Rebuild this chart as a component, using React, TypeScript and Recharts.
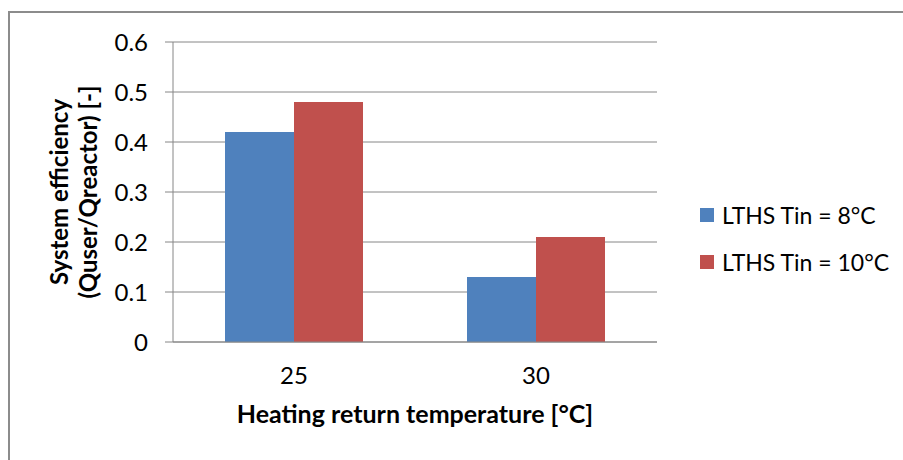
import React from 'react';
import { BarChart, Bar, XAxis, YAxis, CartesianGrid } from 'recharts';

const categories = ['25', '30'];
const seriesNames = ['LTHS Tin = 8°C', 'LTHS Tin = 10°C'];
const tin8 = [0.42, 0.13];
const tin10 = [0.48, 0.21];
const yTicks = [0, 0.1, 0.2, 0.3, 0.4, 0.5, 0.6];
const edgeTicks = [0, 1, 2];
const xTitle = 'Heating return temperature [°C]';
const yTitle = ['System efficiency', '(Quser/Qreactor) [-]'];

const colors = ['#4F81BD', '#C0504D'];
const gray = '#868686';
const font = 'Lato, Carlito, Calibri, sans-serif';

const data = categories.map((c, i) => ({ cat: c, s0: tin8[i], s1: tin10[i] }));

const YTitle = (props: any) => {
  const cy = props.viewBox ? props.viewBox.y + props.viewBox.height / 2 : 192;
  return (
    <g transform={`translate(0, ${cy}) rotate(-90)`}>
      <text x={0} y={68} textAnchor="middle" fontFamily={font} fontWeight="bold" fontSize={24} fill="#000">
        {yTitle[0]}
      </text>
      <text x={0} y={97} textAnchor="middle" fontFamily={font} fontWeight="bold" fontSize={24} fill="#000">
        {yTitle[1]}
      </text>
    </g>
  );
};

const App: React.FC = () => {
  return (
    <div style={{ position: 'absolute', left: 0, top: 0, width: 903, height: 460, overflow: 'hidden', background: '#fff' }}>
      <div
        style={{
          position: 'absolute', left: 8, top: 11, width: 900, height: 460,
          borderTop: '2px solid #8c8c8c', borderLeft: '2px solid #8c8c8c', boxSizing: 'border-box',
        }}
      />
      <div style={{ position: 'absolute', left: 0, top: 0 }}>
        <BarChart
          width={903}
          height={460}
          data={data}
          margin={{ top: 42, right: 246, bottom: 0, left: 0 }}
          barGap={0}
          barCategoryGap={52}
        >
          <CartesianGrid vertical={false} stroke={gray} strokeWidth={1} />
          <XAxis
            xAxisId="edges"
            type="number"
            domain={[0, 2]}
            ticks={edgeTicks}
            tick={false}
            axisLine={false}
            tickLine={{ stroke: gray }}
            tickSize={8}
            height={0}
          />
          <XAxis
            dataKey="cat"
            tickLine={false}
            tickSize={0}
            tickMargin={25}
            axisLine={{ stroke: gray }}
            height={118}
            tick={{ fontFamily: font, fontSize: 24, fill: '#000' }}
            label={{ value: xTitle, position: 'insideTop', offset: 63, fontFamily: font, fontWeight: 'bold', fontSize: 25, fill: '#000' }}
          />
          <YAxis
            width={173}
            domain={[0, 0.6]}
            ticks={yTicks}
            interval={0}
            tickSize={8}
            tickMargin={17}
            axisLine={{ stroke: gray }}
            tickLine={{ stroke: gray }}
            tick={{ fontFamily: font, fontSize: 24, fill: '#000' }}
            label={<YTitle />}
          />
          <Bar dataKey="s0" name={seriesNames[0]} fill={colors[0]} isAnimationActive={false} />
          <Bar dataKey="s1" name={seriesNames[1]} fill={colors[1]} isAnimationActive={false} />
        </BarChart>
      </div>
      {seriesNames.map((n, i) => (
        <div
          key={n}
          style={{ position: 'absolute', left: 700, top: 201 + i * 47, height: 28, display: 'flex', alignItems: 'center', fontFamily: font, fontSize: 23, color: '#000', whiteSpace: 'nowrap' }}
        >
          <span style={{ display: 'inline-block', width: 14, height: 14, background: colors[i], marginRight: 8 }} />
          {n}
        </div>
      ))}
    </div>
  );
};

export default App;
